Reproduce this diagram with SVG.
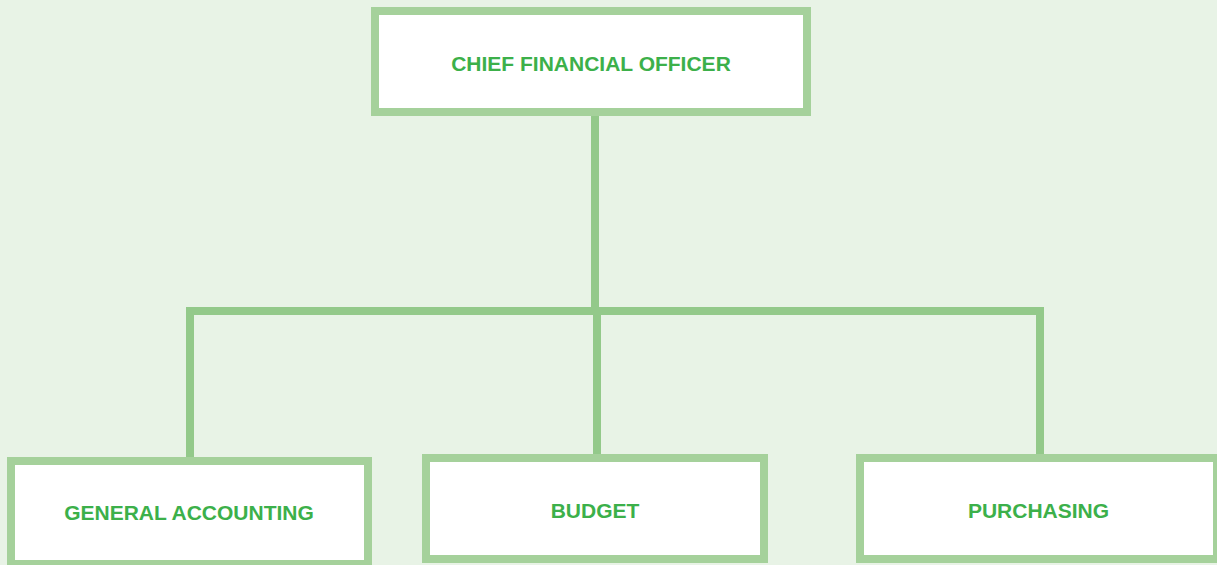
<svg xmlns="http://www.w3.org/2000/svg" width="1217" height="565" viewBox="0 0 1217 565">
<style>
.box{fill:#ffffff;stroke:#a5d19b;stroke-width:8}
.conn{fill:none;stroke:#93c98a;stroke-width:8}
.lbl{font-family:"Liberation Sans",Arial,sans-serif;font-weight:bold;font-size:21px;fill:#3cb04a;text-anchor:middle}
</style>
<rect width="1217" height="565" fill="#e8f3e6"/>
<g id="connectors">
<line class="conn" x1="595" y1="112" x2="595" y2="311"/>
<polyline class="conn" points="190,457 190,311 1040,311 1040,454"/>
<line class="conn" x1="597" y1="311" x2="597" y2="454"/>
</g>
<g id="cfo">
<rect class="box" x="375" y="11" width="432" height="101"/>
<text class="lbl" x="591" y="70.5">CHIEF FINANCIAL OFFICER</text>
</g>
<g id="general-accounting">
<rect class="box" x="11" y="461" width="357" height="103"/>
<text class="lbl" x="189" y="520">GENERAL ACCOUNTING</text>
</g>
<g id="budget">
<rect class="box" x="426" y="458" width="338" height="101"/>
<text class="lbl" x="595" y="517.5">BUDGET</text>
</g>
<g id="purchasing">
<rect class="box" x="860" y="458" width="357" height="101"/>
<text class="lbl" x="1038.5" y="517.5">PURCHASING</text>
</g>
</svg>
